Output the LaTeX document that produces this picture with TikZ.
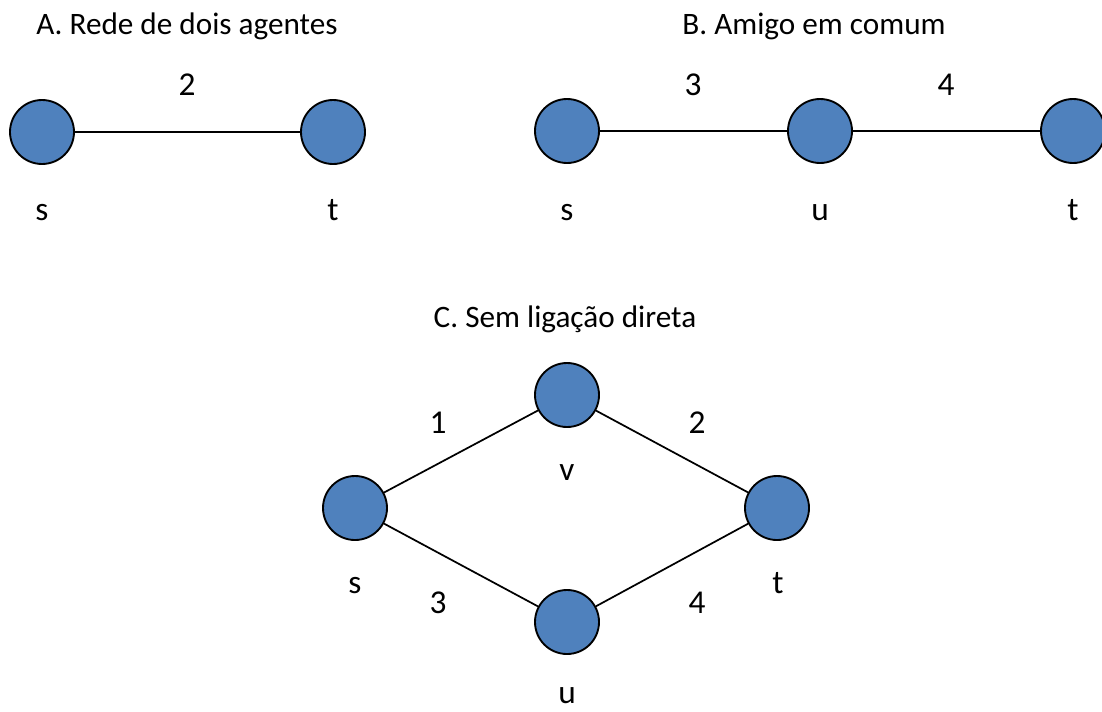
\documentclass[tikz,border=0pt]{standalone}
\usepackage{fontspec}
\setmainfont{Carlito}
\usepackage{xcolor}
\definecolor{agentblue}{HTML}{4F81BD}
\definecolor{agentline}{HTML}{000000}
\usetikzlibrary{%
  positioning%
  }

\begin{document}
\begin{tikzpicture}[x=0.75pt,y=-0.75pt,
    agent/.style={circle,draw=agentline,line width=1.4pt,fill=agentblue,
      minimum size=48pt,inner sep=0pt},
    tie/.style={draw=agentline,line width=1.3pt},
    lbl/.style={font=\fontsize{25}{30}\selectfont,inner sep=0pt,anchor=base},
    heading/.style={font=\fontsize{23.4}{28}\selectfont,inner sep=0pt,anchor=base}]
    \useasboundingbox (0,0) rectangle (1102,711);
    \clip (0,0) rectangle (1102,711);
    \fill[white] (0,0) rectangle (1102,711);
  % A. two agents
    \node[heading] (headA) at (187,34) {A. Rede de dois agentes};
    \node[agent] (As) at (42,132) {};
    \node[agent] (At) at (333,132) {};
    \draw[tie] (As) -- (At);
    \node[lbl] (Aw) at (187,95) {2};
    \node[lbl] (Asl) at (42,220) {s};
    \node[lbl] (Atl) at (333,220) {t};
  % B. common friend
    \node[heading] (headB) at (814,34) {B. Amigo em comum};
    \node[agent] (Bs) at (567,131) {};
    \node[agent] (Bu) at (820,131) {};
    \node[agent] (Bt) at (1073,131) {};
    \draw[tie] (Bs) -- (Bu) -- (Bt);
    \node[lbl] (Bw1) at (693,95) {3};
    \node[lbl] (Bw2) at (946,95) {4};
    \node[lbl] (Bsl) at (567,220) {s};
    \node[lbl] (Bul) at (820,220) {u};
    \node[lbl] (Btl) at (1073,220) {t};
  % C. no direct tie
    \node[heading] (headC) at (565,327) {C. Sem ligação direta};
    \node[agent] (Cv) at (567,395) {};
    \node[agent] (Cs) at (355,508) {};
    \node[agent] (Ct) at (777,508) {};
    \node[agent] (Cu) at (567,622) {};
    \draw[tie] (Cs) -- (Cv) -- (Ct) -- (Cu) -- (Cs);
    \node[lbl] (Cw1) at (438,433) {1};
    \node[lbl] (Cw2) at (697,433) {2};
    \node[lbl] (Cw3) at (438,613) {3};
    \node[lbl] (Cw4) at (697,613) {4};
    \node[lbl] (Cvl) at (567,480) {v};
    \node[lbl] (Csl) at (355,593) {s};
    \node[lbl] (Ctl) at (778,593) {t};
    \node[lbl] (Cul) at (567,703) {u};
    \end{tikzpicture}
\end{document}
